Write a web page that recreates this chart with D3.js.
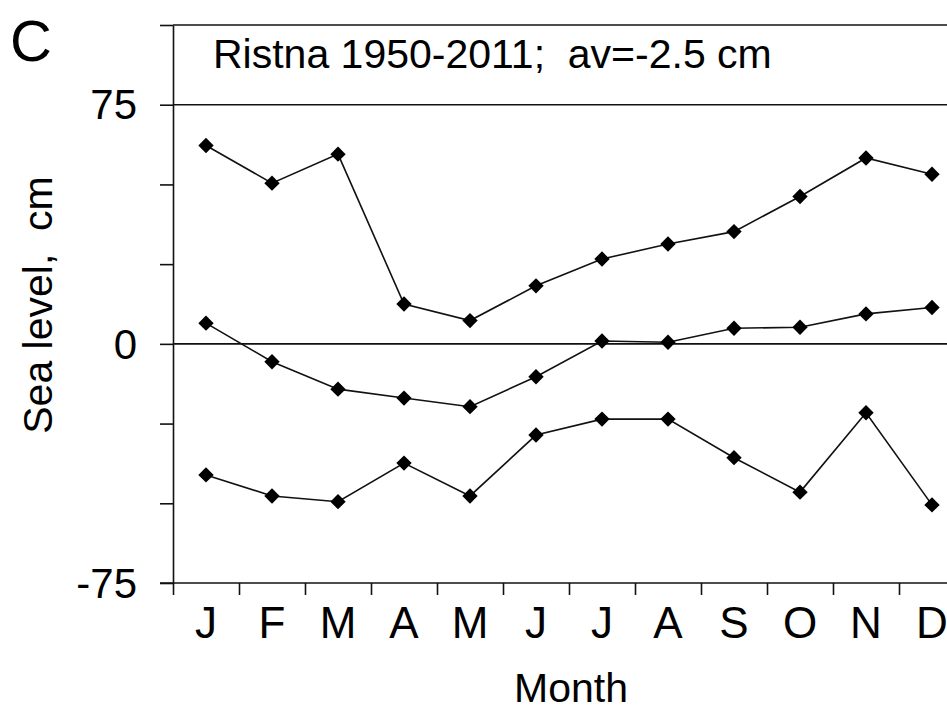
<!DOCTYPE html>
<html>
<head>
<meta charset="utf-8">
<script src="https://cdn.jsdelivr.net/npm/d3@7"></script>
<style>
  body { margin: 0; background: #fff; }
  svg text { font-family: "Liberation Sans", Arial, sans-serif; fill: #000; white-space: pre; }
</style>
</head>
<body>
<div id="chart"></div>
<script>
var months = ["J", "F", "M", "A", "M", "J", "J", "A", "S", "O", "N", "D"];

// monthly maximum, mean and minimum sea level, cm
var seaMax = [62.2, 50.4, 59.5, 12.5, 7.3, 18.2, 26.6, 31.3, 35.2, 46.2, 58.3, 53.2];
var seaMean = [6.5, -5.6, -14.2, -17.0, -19.7, -10.3, 0.9, 0.5, 4.9, 5.2, 9.4, 11.4];
var seaMin = [-41.1, -47.7, -49.5, -37.4, -47.7, -28.6, -23.6, -23.6, -35.7, -46.5, -21.6, -50.5];

var yTicks = [-75, -50, -25, 0, 25, 50, 75, 100];
var yLabels = [-75, 0, 75];
var refLines = [0, 75, 100];

var title = "Ristna 1950-2011;  av=-2.5 cm";

var width = 947, height = 708;
var plotLeft = 173, plotRight = 965, plotTop = 25, plotBottom = 583;

var svg = d3.select("#chart").append("svg")
    .attr("width", width)
    .attr("height", height);

var x = d3.scaleLinear()
    .domain([0, 12])
    .range([plotLeft, plotRight]);

var xBand = d3.scaleBand()
    .domain(d3.range(12))
    .range([plotLeft, plotRight]);

var y = d3.scaleLinear()
    .domain([-75, 100])
    .range([plotBottom, plotTop]);

// horizontal lines at 0, 75 and the top frame
svg.selectAll(".ref").data(refLines).enter().append("line")
    .attr("x1", plotLeft).attr("x2", plotRight)
    .attr("y1", function(d){ return y(d); })
    .attr("y2", function(d){ return y(d); })
    .attr("stroke", "#111")
    .attr("stroke-width", 1.6);

// y axis
var yAxis = svg.append("g")
    .attr("transform", "translate(" + plotLeft + ",0)")
    .call(d3.axisLeft(y).tickValues(yTicks).tickSize(13).tickSizeOuter(0)
        .tickFormat(function(d){ return yLabels.indexOf(d) >= 0 ? d : ""; }));
yAxis.select(".domain").attr("stroke", "#111").attr("stroke-width", 1.6);
yAxis.selectAll(".tick line").attr("stroke", "#111").attr("stroke-width", 1.6);
yAxis.selectAll(".tick text")
    .attr("x", -36)
    .attr("dy", "0.34em")
    .attr("font-size", "42px")
    .attr("font-family", "Liberation Sans, Arial, sans-serif")
    .attr("fill", "#000");

// x axis ticks at month boundaries
var xAxis = svg.append("g")
    .attr("transform", "translate(0," + plotBottom + ")")
    .call(d3.axisBottom(x).tickValues(d3.range(13)).tickSize(12).tickSizeOuter(0)
        .tickFormat(""));
xAxis.select(".domain").attr("stroke", "#111").attr("stroke-width", 1.6)
    .attr("d", "M" + (plotLeft - 13) + ",0H" + plotRight);
xAxis.selectAll(".tick line").attr("stroke", "#111").attr("stroke-width", 1.6);

// month labels
var xLab = svg.append("g")
    .attr("transform", "translate(0," + plotBottom + ")")
    .call(d3.axisBottom(xBand).tickSize(0).tickFormat(function(i){ return months[i]; }));
xLab.select(".domain").remove();
xLab.selectAll(".tick text")
    .attr("y", 55)
    .attr("dy", 0)
    .attr("font-size", "44px")
    .attr("font-family", "Liberation Sans, Arial, sans-serif")
    .attr("fill", "#000");

// series
var line = d3.line()
    .x(function(d, i){ return xBand(i) + xBand.bandwidth() / 2; })
    .y(function(d){ return y(d); });

var diamond = d3.symbol().type(d3.symbolSquare).size(118);

[seaMax, seaMean, seaMin].forEach(function(series){
    svg.append("path")
        .datum(series)
        .attr("fill", "none")
        .attr("stroke", "#111")
        .attr("stroke-width", 1.6)
        .attr("d", line);

    svg.selectAll(null).data(series).enter().append("path")
        .attr("d", diamond)
        .attr("transform", function(d, i){
            return "translate(" + (xBand(i) + xBand.bandwidth() / 2) + "," + y(d) + ") rotate(45)";
        })
        .attr("fill", "#000");
});

// texts
svg.append("text")
    .attr("x", 213)
    .attr("y", 68)
    .attr("font-size", "41px")
    .text(title);

svg.append("text")
    .attr("x", 10)
    .attr("y", 61)
    .attr("font-size", "58px")
    .text("C");

svg.append("text")
    .attr("x", 571)
    .attr("y", 702)
    .attr("text-anchor", "middle")
    .attr("font-size", "41px")
    .text("Month");

svg.append("text")
    .attr("transform", "translate(52,305) rotate(-90)")
    .attr("text-anchor", "middle")
    .attr("font-size", "41px")
    .text("Sea level,  cm");
</script>
</body>
</html>
